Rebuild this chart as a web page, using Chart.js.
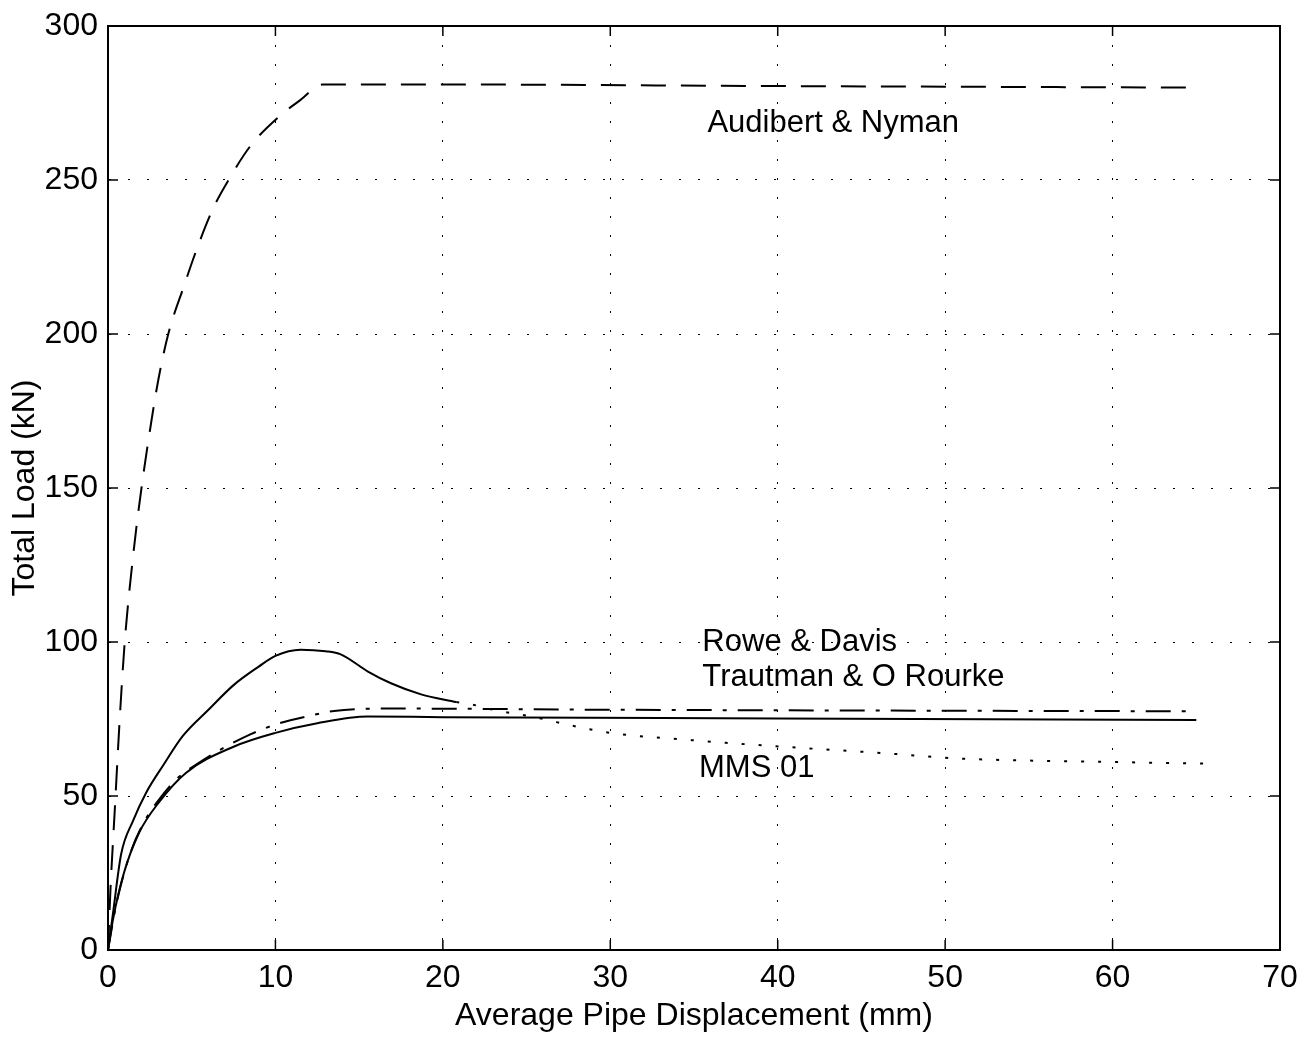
<!DOCTYPE html>
<html>
<head>
<meta charset="utf-8">
<script src="https://cdn.jsdelivr.net/npm/chart.js@4/dist/chart.umd.min.js"></script>
<style>
  body { margin: 0; background: #fff; }
  canvas { display: block; }
</style>
</head>
<body>
<canvas id="loadChart" width="1311" height="1038"></canvas>
<script>
// values
const xTicks = [0, 10, 20, 30, 40, 50, 60, 70];
const yTicks = [0, 50, 100, 150, 200, 250, 300];

const audibertX = [0, 0.15, 0.4, 0.7, 1.0, 1.5, 2.0, 2.6, 3.0, 3.6, 4.5, 5.4, 6.3, 7.2, 8.5, 10.3, 11.5, 12.8, 20, 40, 65];
const audibertY = [0, 20, 45, 75, 100, 128, 150, 172, 185, 200, 215, 229, 241, 250, 261, 271, 276, 281, 281, 280.5, 280];

const mmsX = [0, 0.3, 0.78, 1.5, 2.27, 3.3, 4.47, 6, 7.5, 9, 10, 11.5, 13, 13.9, 15.5, 16.9, 18.7, 20.8];
const mmsY = [0, 12, 31, 42, 51, 60, 69.5, 78, 86, 92, 95.5, 97.5, 97, 96, 90.5, 86.6, 83, 80.5];

const mmsTailX = [20.8, 21.5, 23, 25.4, 28, 30, 35.4, 40.3, 46.9, 50.3, 55, 60.3, 65.6];
const mmsTailY = [80.5, 80, 78, 75.7, 72.5, 70.5, 67.9, 66, 63.7, 62.3, 61.5, 61, 60.5];

const roweX = [0, 0.5, 1.37, 2.2, 3.0, 4.2, 5.5, 6.9, 8.5, 10.1, 12, 13.5, 16.5, 30, 65];
const roweY = [0, 15, 32, 42, 48.5, 56, 61, 65.6, 70, 73.4, 76, 77.6, 78.4, 78, 77.5];

const trautmanX = [0, 0.3, 0.95, 1.85, 3.05, 4.65, 7.5, 10, 12.5, 15.5, 20, 40, 65];
const trautmanY = [0, 10, 25, 38, 48, 57.5, 66, 70.5, 73.6, 75.8, 75.6, 75.2, 74.7];

const labelTexts = ['Audibert & Nyman', 'Rowe & Davis', 'Trautman & O Rourke', 'MMS 01'];
const labelX = [35.8, 35.5, 35.5, 35.3];
const labelY = [268.3, 99.9, 88.6, 58.8];

const FONT = '"Liberation Sans", Arial, Helvetica, sans-serif';

function pts(xs, ys) {
  return xs.map((x, i) => ({ x, y: ys[i] }));
}

function series(label, xs, ys, dash) {
  return {
    label,
    data: pts(xs, ys),
    borderColor: '#000',
    borderWidth: 2,
    borderDash: dash,
    pointRadius: 0,
    fill: false,
    cubicInterpolationMode: 'monotone'
  };
}

// box round the plot, inward ticks and the curve labels
const framePlugin = {
  id: 'frame',
  afterDatasetsDraw(chart) {
    const { ctx, chartArea: a, scales: { x, y } } = chart;
    ctx.save();
    ctx.strokeStyle = '#000';
    ctx.lineWidth = 2;
    ctx.strokeRect(a.left, a.top, a.right - a.left, a.bottom - a.top);
    ctx.lineWidth = 1.5;
    ctx.beginPath();
    xTicks.forEach(v => {
      const px = x.getPixelForValue(v);
      ctx.moveTo(px, a.bottom); ctx.lineTo(px, a.bottom - 10);
      ctx.moveTo(px, a.top); ctx.lineTo(px, a.top + 10);
    });
    yTicks.forEach(v => {
      const py = y.getPixelForValue(v);
      ctx.moveTo(a.left, py); ctx.lineTo(a.left + 10, py);
      ctx.moveTo(a.right, py); ctx.lineTo(a.right - 10, py);
    });
    ctx.stroke();

    ctx.fillStyle = '#000';
    ctx.font = '31px ' + FONT;
    ctx.textAlign = 'left';
    ctx.textBaseline = 'middle';
    labelTexts.forEach((t, i) => {
      ctx.fillText(t, x.getPixelForValue(labelX[i]), y.getPixelForValue(labelY[i]));
    });
    ctx.restore();
  }
};

const ctx = document.getElementById('loadChart').getContext('2d');
new Chart(ctx, {
  type: 'line',
  data: {
    datasets: [
      series('Audibert & Nyman', audibertX, audibertY, [25, 15]),
      series('MMS 01', mmsX, mmsY, []),
      series('MMS 01 (cont.)', mmsTailX, mmsTailY, [3, 14]),
      series('Rowe & Davis', roweX, roweY, [25, 11, 4, 11]),
      series('Trautman & O Rourke', trautmanX, trautmanY, [])
    ]
  },
  options: {
    responsive: false,
    animation: false,
    devicePixelRatio: 1,
    layout: { padding: { top: 22, right: 31, left: 0, bottom: 0 } },
    plugins: { legend: { display: false }, tooltip: { enabled: false } },
    scales: {
      x: {
        type: 'linear',
        min: 0, max: 70,
        afterFit: s => { s.height = 88; },
        afterBuildTicks: s => { s.ticks = xTicks.map(v => ({ value: v })); },
        ticks: { color: '#000', font: { family: FONT, size: 32 }, padding: 9, maxRotation: 0 },
        grid: { color: '#000', lineWidth: 1, drawTicks: false },
        border: { display: true, color: '#000', width: 2, dash: [2, 17] },
        title: {
          display: true,
          text: 'Average Pipe Displacement (mm)',
          color: '#000',
          font: { family: FONT, size: 32 },
          padding: { top: 0, bottom: 3 }
        }
      },
      y: {
        min: 0, max: 300,
        afterFit: s => { s.width = 108; },
        afterBuildTicks: s => { s.ticks = yTicks.map(v => ({ value: v })); },
        ticks: { color: '#000', font: { family: FONT, size: 32, lineHeight: 1 }, padding: 10 },
        grid: { color: '#000', lineWidth: 1, drawTicks: false },
        border: { display: true, color: '#000', width: 2, dash: [2, 17] },
        title: {
          display: true,
          text: 'Total Load (kN)',
          color: '#000',
          font: { family: FONT, size: 32 },
          padding: { top: 6, bottom: 0 }
        }
      }
    }
  },
  plugins: [framePlugin]
});
</script>
</body>
</html>
